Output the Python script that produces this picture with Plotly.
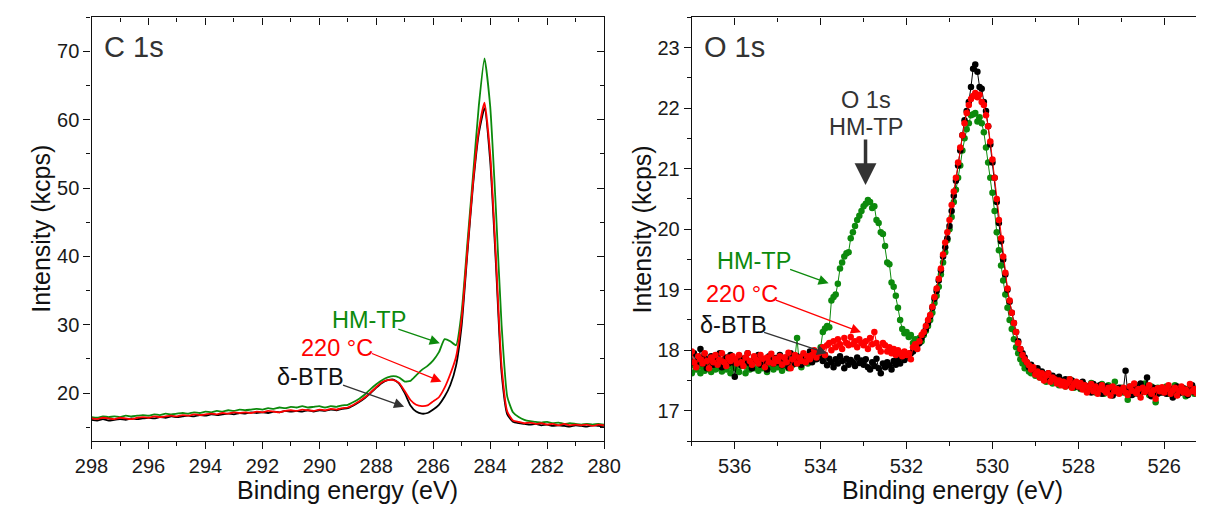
import plotly.graph_objects as go

W, H = 1213, 506
FONT = "Liberation Sans, Arial, sans-serif"
GREEN = "#0c8a0c"
RED = "#ff0000"
BLACK = "#000000"
GRAY = "#333333"

# ---------------- C 1s data (binding energy 298.0 -> 280.0, step 0.2 eV) ----------------
c1s_start, c1s_step = 298.0, 0.2
c1s_btb = [
    16.1, 16.0, 16.2, 16.0, 16.1, 16.2, 16.1, 16.3, 16.2, 16.3,
    16.4, 16.3, 16.5, 16.4, 16.6, 16.5, 16.6, 16.7, 16.6, 16.8,
    16.7, 16.9, 16.8, 16.9, 17.0, 16.9, 17.1, 17.0, 17.2, 17.1,
    17.2, 17.1, 17.3, 17.2, 17.4, 17.3, 17.4, 17.3, 17.5, 17.3,
    17.5, 17.4, 17.6, 17.5, 17.7, 17.8,
    18.2, 18.7, 19.3, 20.0, 20.8, 21.5, 21.9, 22.0, 21.4, 20.0,
    18.2, 17.3, 17.0, 17.1, 17.6, 18.3, 19.5, 21.2, 24.0, 30.0,
    40.5, 50.5, 58.0, 61.7, 54.0, 39.0, 23.0, 16.9, 15.8, 15.6,
    15.5, 15.4, 15.5, 15.3, 15.4, 15.2, 15.3, 15.2, 15.1, 15.3,
    15.2, 15.1, 15.3, 15.2, 15.2,
]
c1s_220 = [
    16.3, 16.2, 16.4, 16.3, 16.2, 16.4, 16.3, 16.2, 16.4, 16.5,
    16.4, 16.6, 16.5, 16.6, 16.7, 16.6, 16.8, 16.7, 16.9, 16.8,
    16.9, 17.0, 16.9, 17.1, 17.0, 17.2, 17.1, 17.2, 17.1, 17.3,
    17.2, 17.4, 17.3, 17.2, 17.4, 17.5, 17.4, 17.6, 17.5, 17.4,
    17.6, 17.5, 17.7, 17.6, 17.8, 17.9,
    18.3, 18.8, 19.4, 20.1, 20.9, 21.6, 21.9, 21.9, 21.5, 20.3,
    19.0, 18.3, 18.1, 18.2, 18.8, 19.4, 20.8, 22.8, 25.3, 31.0,
    41.0, 51.0, 58.5, 62.5, 55.0, 40.0, 24.0, 17.3, 16.0, 15.8,
    15.6, 15.7, 15.5, 15.6, 15.4, 15.5, 15.3, 15.5, 15.3, 15.4,
    15.3, 15.4, 15.2, 15.4, 15.3,
]
c1s_hmtp = [
    16.5, 16.4, 16.6, 16.5, 16.6, 16.5, 16.7, 16.6, 16.7, 16.8,
    16.7, 16.9, 16.8, 17.0, 16.9, 17.0, 17.1, 17.0, 17.2, 17.1,
    17.3, 17.2, 17.4, 17.3, 17.5, 17.4, 17.6, 17.5, 17.6, 17.7,
    17.6, 17.8, 17.7, 17.9, 17.8, 18.0, 17.9, 18.1, 17.9, 18.0,
    18.1, 17.9, 18.1, 18.0, 18.2, 18.3,
    18.7, 19.2, 19.8, 20.6, 21.3, 21.9, 22.3, 22.5, 22.3, 21.7,
    21.8, 22.6, 23.4, 24.0, 24.8, 26.0, 27.9, 27.6, 27.0, 32.0,
    42.0, 52.0, 62.0, 69.0, 62.0, 47.0, 30.0, 19.5, 17.2, 16.5,
    16.1, 15.9, 15.8, 15.7, 15.8, 15.6, 15.7, 15.5, 15.6, 15.5,
    15.4, 15.5, 15.4, 15.5, 15.4,
]

# ---------------- O 1s data (binding energy 537.00 -> 525.25, step 0.05 eV) ----------------
o1s_start, o1s_step = 537.0, 0.05
o1s_btb = [
    17.80, 17.95, 17.75, 17.85, 18.02, 17.78, 17.88, 17.70, 17.82, 17.90, 17.76, 17.86, 17.80, 17.95, 17.72, 17.84, 17.88, 17.78, 17.92, 17.80,
    17.56, 17.82, 17.90, 17.75, 17.86, 17.80, 17.95, 17.78, 17.70, 17.88, 17.83, 17.92, 17.76, 17.85, 17.80, 17.68, 17.90, 17.82, 17.78, 17.87,
    17.80, 17.92, 17.75, 17.84, 17.88, 17.72, 17.95, 17.82, 17.78, 17.90, 17.85, 17.76, 17.92, 17.83, 17.88, 17.98, 17.80, 17.90, 17.85, 17.95,
    17.88, 17.82, 17.92, 17.75, 17.86, 17.80, 17.72, 17.85, 17.78, 17.90, 17.82, 17.70, 17.86, 17.76, 17.84, 17.80, 17.74, 17.88, 17.79, 17.83,
    17.76, 17.85, 17.72, 17.68, 17.80, 17.74, 17.86, 17.70, 17.62, 17.78, 17.72, 17.80, 17.75, 17.68, 17.82, 17.76, 17.85, 17.78, 17.90, 17.84,
    17.88, 17.92, 17.95, 17.98, 18.02, 18.08, 18.12, 18.20, 18.28, 18.35, 18.45, 18.56, 18.70, 18.85, 18.98, 19.15, 19.32, 19.55, 19.70, 19.85,
    20.05, 20.30, 20.55, 20.80, 21.05, 21.30, 21.55, 21.80, 21.95, 22.10, 22.35, 22.65, 22.72, 22.60, 22.35, 22.32, 22.10, 21.95, 21.70, 21.40,
    21.10, 20.85, 20.45, 20.10, 19.80, 19.50, 19.25, 19.00, 18.80, 18.62, 18.45, 18.30, 18.15, 18.02, 17.95, 17.88, 17.80, 17.72, 17.76, 17.68,
    17.62, 17.70, 17.58, 17.65, 17.60, 17.55, 17.62, 17.50, 17.58, 17.54, 17.48, 17.56, 17.50, 17.45, 17.52, 17.48, 17.42, 17.50, 17.45, 17.40,
    17.45, 17.38, 17.48, 17.42, 17.35, 17.40, 17.30, 17.44, 17.38, 17.33, 17.42, 17.28, 17.36, 17.40, 17.32, 17.38, 17.25, 17.34, 17.30, 17.38,
    17.32, 17.36, 17.66, 17.30, 17.38, 17.26, 17.34, 17.40, 17.28, 17.45, 17.32, 17.36, 17.55, 17.30, 17.24, 17.38, 17.32, 17.28, 17.36, 17.30,
    17.34, 17.28, 17.38, 17.30, 17.22, 17.35, 17.40, 17.29, 17.33, 17.37, 17.30, 17.26, 17.35, 17.42, 17.31, 17.36,
]
o1s_220 = [
    17.98, 17.80, 17.72, 17.90, 17.85, 17.78, 17.95, 17.82, 17.70, 17.88, 17.80, 17.92, 17.76, 17.84, 17.95, 17.80, 17.74, 17.88, 17.82, 17.90,
    17.85, 17.78, 17.92, 17.80, 17.74, 17.88, 17.95, 17.82, 17.76, 17.90, 17.84, 17.78, 17.92, 17.86, 17.72, 17.88, 17.80, 17.94, 17.78, 17.86,
    17.82, 17.90, 17.76, 17.88, 17.80, 17.96, 17.70, 17.85, 17.92, 17.78, 17.88, 17.82, 17.95, 17.80, 17.90, 17.85, 17.92, 18.00, 17.88, 17.95,
    17.98, 18.05, 17.92, 18.08, 18.12, 18.00, 18.15, 18.05, 18.18, 18.10, 18.02, 18.20, 18.12, 18.08, 18.22, 18.10, 18.15, 18.05, 18.18, 18.12,
    18.08, 18.15, 18.02, 18.20, 18.10, 18.30, 18.12, 18.05, 17.98, 18.12, 18.08, 17.98, 18.05, 17.95, 18.02, 17.92, 18.00, 17.96, 17.90, 17.98,
    17.92, 17.95, 17.85, 18.05, 18.10, 18.02, 18.15, 18.25, 18.30, 18.40, 18.50, 18.58, 18.72, 18.88, 19.02, 19.18, 19.35, 19.58, 19.78, 19.95,
    20.15, 20.40, 20.62, 20.85, 21.10, 21.35, 21.55, 21.75, 21.92, 22.05, 22.15, 22.20, 22.25, 22.18, 22.22, 22.10, 22.05, 21.88, 21.70, 21.45,
    21.15, 20.85, 20.50, 20.15, 19.85, 19.55, 19.28, 19.02, 18.82, 18.62, 18.45, 18.30, 18.12, 18.02, 17.92, 17.85, 17.80, 17.75, 17.68, 17.72,
    17.60, 17.65, 17.55, 17.62, 17.50, 17.58, 17.62, 17.48, 17.55, 17.52, 17.45, 17.50, 17.42, 17.48, 17.40, 17.46, 17.52, 17.38, 17.44, 17.48,
    17.40, 17.46, 17.35, 17.42, 17.30, 17.38, 17.44, 17.32, 17.40, 17.28, 17.36, 17.42, 17.34, 17.30, 17.38, 17.25, 17.40, 17.32, 17.36, 17.28,
    17.34, 17.38, 17.30, 17.26, 17.40, 17.33, 17.45, 17.29, 17.36, 17.22, 17.38, 17.31, 17.35, 17.42, 17.28, 17.34, 17.20, 17.37, 17.32, 17.39,
    17.30, 17.36, 17.42, 17.28, 17.34, 17.38, 17.25, 17.33, 17.40, 17.30, 17.35, 17.28, 17.44, 17.32, 17.36, 17.29,
]
o1s_hmtp = [
    17.62, 17.75, 17.68, 17.80, 17.62, 17.72, 17.66, 17.78, 17.70, 17.64, 17.76, 17.68, 17.82, 17.70, 17.65, 17.74, 17.68, 17.78, 17.62, 17.72,
    17.70, 17.78, 17.64, 17.74, 17.80, 17.62, 17.72, 17.68, 17.76, 17.70, 17.84, 17.66, 17.74, 17.70, 17.78, 17.64, 17.72, 17.80, 17.68, 17.75,
    17.72, 17.78, 17.66, 17.82, 17.74, 17.70, 17.80, 17.76, 17.86, 18.20, 17.78, 17.72, 17.80, 17.84, 17.78, 17.90, 17.82, 17.88, 17.94, 17.92,
    18.05, 18.30, 18.36, 18.40, 18.38, 18.82, 18.88, 18.92, 19.10, 19.35, 19.45, 19.55, 19.60, 19.62, 19.85, 19.95, 20.05, 20.15, 20.22, 20.30,
    20.38, 20.42, 20.48, 20.45, 20.35, 20.38, 20.15, 20.10, 19.95, 19.92, 19.72, 19.45, 19.42, 19.12, 19.05, 18.90, 18.70, 18.50, 18.35, 18.28,
    18.30, 18.22, 18.25, 18.12, 18.18, 18.10, 18.20, 18.15, 18.25, 18.32, 18.40, 18.50, 18.62, 18.78, 18.90, 19.05, 19.25, 19.45, 19.62, 19.82,
    20.00, 20.20, 20.45, 20.65, 20.85, 21.05, 21.30, 21.50, 21.65, 21.75, 21.88, 21.90, 21.92, 21.78, 21.85, 21.75, 21.60, 21.35, 21.10, 20.85,
    20.60, 20.30, 19.95, 19.65, 19.40, 19.15, 18.92, 18.70, 18.50, 18.35, 18.18, 18.05, 17.95, 17.85, 17.78, 17.70, 17.72, 17.65, 17.62, 17.68,
    17.58, 17.62, 17.55, 17.60, 17.52, 17.48, 17.56, 17.50, 17.45, 17.54, 17.48, 17.42, 17.50, 17.46, 17.40, 17.48, 17.52, 17.44, 17.38, 17.46,
    17.42, 17.36, 17.45, 17.40, 17.32, 17.38, 17.46, 17.34, 17.30, 17.40, 17.36, 17.44, 17.28, 17.38, 17.42, 17.34, 17.30, 17.48, 17.36, 17.32,
    17.38, 17.30, 17.35, 17.18, 17.40, 17.34, 17.28, 17.42, 17.36, 17.30, 17.38, 17.45, 17.32, 17.26, 17.40, 17.34, 17.14, 17.38, 17.30, 17.36,
    17.32, 17.40, 17.28, 17.36, 17.30, 17.42, 17.26, 17.35, 17.38, 17.30, 17.24, 17.36, 17.40, 17.32, 17.28, 17.34,
]

# axis settings
c1s_xrange = [298, 280]
c1s_yrange = [13, 75]
o1s_xrange = [537, 525.26]
o1s_yrange = [16.5, 23.5]


def energies(start, step, n):
    return [round(start - step * i, 3) for i in range(n)]


def px(x):
    return x / W


def py(y):
    return 1 - y / H


fig = go.Figure()

# C 1s lines
for ys, col in [(c1s_btb, BLACK), (c1s_hmtp, GREEN), (c1s_220, RED)]:
    fig.add_trace(go.Scatter(
        x=energies(c1s_start, c1s_step, len(ys)), y=ys, mode="lines",
        line=dict(color=col, width=1.8, shape="spline", smoothing=0.5),
        xaxis="x", yaxis="y", showlegend=False, hoverinfo="skip"))

# O 1s points
for ys, col in [(o1s_hmtp, GREEN), (o1s_btb, BLACK), (o1s_220, RED)]:
    fig.add_trace(go.Scatter(
        x=energies(o1s_start, o1s_step, len(ys)), y=ys, mode="lines+markers",
        line=dict(color=col, width=1),
        marker=dict(color=col, size=6.5),
        xaxis="x2", yaxis="y2", showlegend=False, hoverinfo="skip"))

# dummy traces so that overlay (mirror) axes exist
fig.add_trace(go.Scatter(x=[], y=[], xaxis="x3", yaxis="y3", showlegend=False))
fig.add_trace(go.Scatter(x=[], y=[], xaxis="x4", yaxis="y2", showlegend=False))

LW = 1.4
ydom = [py(441), py(17.3)]
xdom1 = [px(76.7), px(604)]
xdom2 = [px(694.3), 1.0]
tickfont = dict(family=FONT, size=20, color="#1a1a1a")

base = dict(showgrid=False, zeroline=False, showline=True, linecolor="#111",
            linewidth=LW, tickcolor="#111", tickwidth=LW, fixedrange=True,
            autorange=False)

fig.update_layout(
    width=W, height=H,
    margin=dict(l=0, r=0, t=0, b=0),
    paper_bgcolor="white", plot_bgcolor="white",
    font=dict(family=FONT),
    xaxis=dict(base, domain=xdom1, range=c1s_xrange, anchor="y",
               ticks="outside", ticklen=7, dtick=2, tick0=0, tickfont=tickfont,
               minor=dict(ticks="outside", ticklen=4, dtick=1, tick0=0,
                          tickcolor="#111", tickwidth=LW)),
    yaxis=dict(base, domain=ydom, range=c1s_yrange, anchor="x",
               ticks="outside", ticklen=7, dtick=10, tick0=0, tickfont=tickfont,
               minor=dict(ticks="outside", ticklen=4, dtick=5, tick0=0,
                          tickcolor="#111", tickwidth=LW)),
    xaxis3=dict(base, domain=xdom1, range=c1s_xrange, anchor="y", side="top",
                overlaying="x", ticks="inside", ticklen=7, dtick=2, tick0=0,
                showticklabels=False,
                minor=dict(ticks="inside", ticklen=4, dtick=1, tick0=0,
                           tickcolor="#111", tickwidth=LW)),
    yaxis3=dict(base, domain=ydom, range=c1s_yrange, anchor="x3", side="right",
                overlaying="y", ticks="inside", ticklen=7, dtick=10, tick0=0,
                showticklabels=False,
                minor=dict(ticks="inside", ticklen=4, dtick=5, tick0=0,
                           tickcolor="#111", tickwidth=LW)),
    xaxis2=dict(base, domain=xdom2, range=o1s_xrange, anchor="y2",
                ticks="outside", ticklen=7, dtick=2, tick0=0, tickfont=tickfont,
                minor=dict(ticks="outside", ticklen=4, dtick=1, tick0=0,
                           tickcolor="#111", tickwidth=LW)),
    yaxis2=dict(base, domain=ydom, range=o1s_yrange, anchor="x2",
                ticks="outside", ticklen=7, dtick=1, tick0=0, tickfont=tickfont,
                minor=dict(ticks="outside", ticklen=4, dtick=0.5, tick0=0,
                           tickcolor="#111", tickwidth=LW)),
    xaxis4=dict(base, domain=xdom2, range=o1s_xrange, anchor="y2", side="top",
                overlaying="x2", ticks="inside", ticklen=7, dtick=2, tick0=0,
                showticklabels=False,
                minor=dict(ticks="inside", ticklen=4, dtick=1, tick0=0,
                           tickcolor="#111", tickwidth=LW)),
)

ann = []


def text(x, y, s, size, color, xanchor="center", textangle=0):
    ann.append(dict(x=px(x), y=py(y), xref="paper", yref="paper", text=s,
                    showarrow=False, xanchor=xanchor, yanchor="middle",
                    textangle=textangle, borderpad=0,
                    font=dict(family=FONT, size=size, color=color)))


def arrow(tip, tail, color, width, size):
    ann.append(dict(x=px(tip[0]), y=py(tip[1]), xref="paper", yref="paper",
                    ax=tail[0] - tip[0], ay=tail[1] - tip[1],
                    axref="pixel", ayref="pixel", text="", showarrow=True,
                    arrowhead=2, arrowsize=size, arrowwidth=width,
                    arrowcolor=color, standoff=0, borderpad=0,
                    font=dict(size=1)))


# axis titles
text(24.5, 229, "Intensity (kcps)", 25, "#111", textangle=-90)
text(643.5, 229, "Intensity (kcps)", 25, "#111", textangle=-90)
text(340.4, 490, "Binding energy (eV)", 25, "#111")
text(962, 490, "Binding energy (eV)", 25, "#111")

# panel labels
text(88, 46.6, "C 1s", 29, GRAY, xanchor="left")
text(706, 46.6, "O 1s", 29, GRAY, xanchor="left")

# C 1s series labels
text(361.7, 320.3, "HM-TP", 23.5, GREEN)
text(329.2, 348, "220 °C", 23.5, RED)
text(302.3, 377, "δ-BTB", 23.5, "#111")
arrow((435, 343.3), (393, 329), GREEN, 1.3, 1.55)
arrow((436.7, 381.7), (366.7, 353.3), RED, 1.3, 1.55)
arrow((398.3, 406.7), (336.7, 385), GRAY, 1.3, 1.55)

# O 1s series labels
text(758.3, 261.3, "HM-TP", 23.5, GREEN)
text(746, 293.7, "220 °C", 23.5, RED)
text(737.5, 325.3, "δ-BTB", 23.5, "#111")
arrow((835, 283.3), (796, 269.3), GREEN, 1.3, 1.55)
arrow((868.3, 332.3), (782.7, 300), RED, 1.3, 1.55)
arrow((833.3, 353.3), (770, 332.3), GRAY, 1.3, 1.55)

# O 1s HM-TP marker
text(873.5, 100.3, "O 1s", 23.5, GRAY)
text(873.5, 127, "HM-TP", 23.5, GRAY)
arrow((873, 185), (873, 139), GRAY, 3.5, 1.25)

fig.update_layout(annotations=ann)

fig.write_html("out.html")
